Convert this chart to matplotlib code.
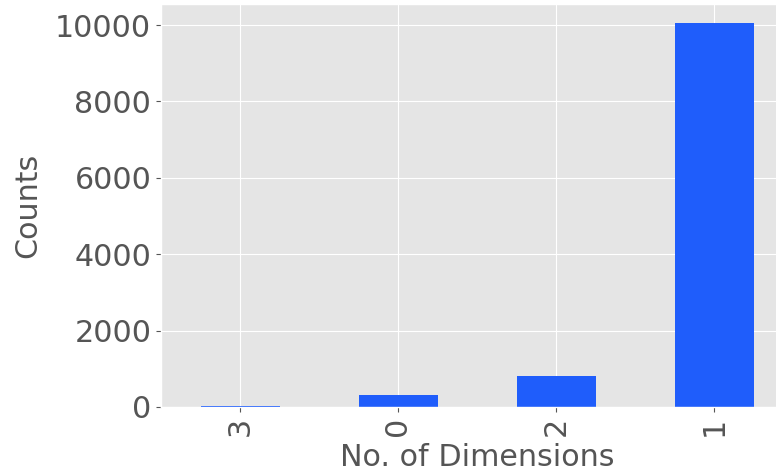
import matplotlib
matplotlib.use("Agg")
import matplotlib.pyplot as plt

plt.style.use("ggplot")

categories = ["3", "0", "2", "1"]
counts = [30, 312, 807, 10050]

W, H = 776, 475
fig = plt.figure(figsize=(W / 100, H / 100), dpi=100)
left, right, top, bottom = 161, 793, 4, 407
ax = fig.add_axes([left / W, 1 - bottom / H, (right - left) / W, (bottom - top) / H])

fs = 21.7
x = list(range(len(categories)))
ax.bar(x, counts, width=0.5, color="#1F5DFB")
ax.set_xticks(x)
ax.set_xticklabels(categories, rotation=90)
ax.set_xlim(-0.5, 3.5)
ax.set_ylim(0, 10552)
ax.set_yticks([0, 2000, 4000, 6000, 8000, 10000])
ax.tick_params(axis="both", labelsize=fs, colors="#555555", labelcolor="#555555")
ax.set_xlabel("No. of Dimensions", fontsize=fs, color="#555555", labelpad=5)
ax.set_ylabel("Counts", fontsize=fs, color="#555555", labelpad=9)

fig.savefig("out.png", dpi=100)
